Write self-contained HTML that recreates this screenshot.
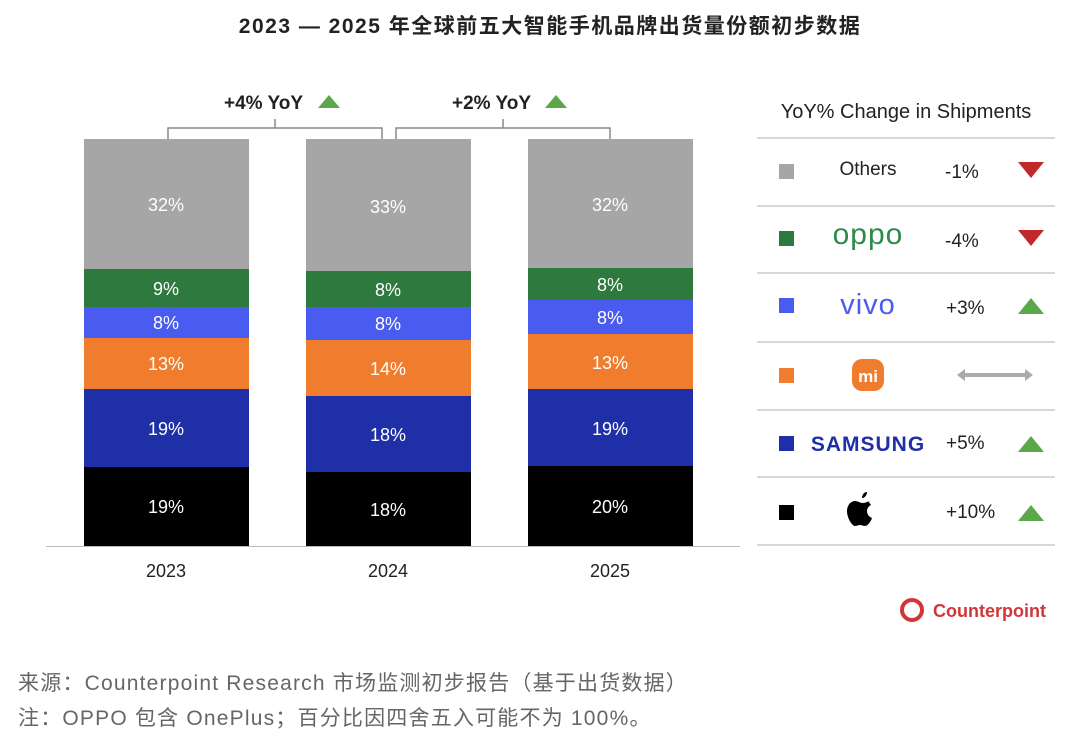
<!DOCTYPE html>
<html><head><meta charset="utf-8"><style>
body{margin:0;background:#fff;width:1080px;height:739px;overflow:hidden;font-family:"Liberation Sans","Noto Sans CJK SC",sans-serif;}
</style></head><body>
<svg width="1080" height="739" viewBox="0 0 1080 739" xmlns="http://www.w3.org/2000/svg" font-family="Liberation Sans, Noto Sans CJK SC, sans-serif">
<text x="550" y="33" text-anchor="middle" font-size="21" font-weight="bold" fill="#222" letter-spacing="1.5">2023 — 2025 年全球前五大智能手机品牌出货量份额初步数据</text>
<g>
<rect x="84" y="139" width="165" height="130" fill="#a6a6a6"/>
<rect x="84" y="269" width="165" height="38" fill="#2e7a3e"/>
<rect x="84" y="307" width="165" height="31" fill="#4a5cf0"/>
<rect x="84" y="338" width="165" height="51" fill="#f07d2e"/>
<rect x="84" y="389" width="165" height="78" fill="#1f2fa8"/>
<rect x="84" y="467" width="165" height="79" fill="#000"/>
<rect x="306" y="139" width="165" height="132" fill="#a6a6a6"/>
<rect x="306" y="271" width="165" height="36" fill="#2e7a3e"/>
<rect x="306" y="307" width="165" height="33" fill="#4a5cf0"/>
<rect x="306" y="340" width="165" height="56" fill="#f07d2e"/>
<rect x="306" y="396" width="165" height="76" fill="#1f2fa8"/>
<rect x="306" y="472" width="165" height="74" fill="#000"/>
<rect x="528" y="139" width="165" height="129" fill="#a6a6a6"/>
<rect x="528" y="268" width="165" height="32" fill="#2e7a3e"/>
<rect x="528" y="300" width="165" height="34" fill="#4a5cf0"/>
<rect x="528" y="334" width="165" height="55" fill="#f07d2e"/>
<rect x="528" y="389" width="165" height="77" fill="#1f2fa8"/>
<rect x="528" y="466" width="165" height="80" fill="#000"/>
</g>
<g font-size="18" fill="#fff" text-anchor="middle">
<text x="166" y="211">32%</text><text x="166" y="295">9%</text><text x="166" y="329">8%</text><text x="166" y="370">13%</text><text x="166" y="435">19%</text><text x="166" y="513">19%</text>
<text x="388" y="213">33%</text><text x="388" y="296">8%</text><text x="388" y="330">8%</text><text x="388" y="375">14%</text><text x="388" y="441">18%</text><text x="388" y="516">18%</text>
<text x="610" y="211">32%</text><text x="610" y="291">8%</text><text x="610" y="324">8%</text><text x="610" y="369">13%</text><text x="610" y="435">19%</text><text x="610" y="513">20%</text>
</g>
<line x1="46" y1="546.5" x2="740" y2="546.5" stroke="#bbb" stroke-width="1"/>
<g font-size="18" fill="#222" text-anchor="middle">
<text x="166" y="577">2023</text><text x="388" y="577">2024</text><text x="610" y="577">2025</text>
</g>
<g stroke="#888" stroke-width="1.5" fill="none">
<path d="M168 139V128H382V139M275 128V119"/>
<path d="M396 139V128H610V139M503 128V119"/>
</g>
<g font-size="19" font-weight="bold" fill="#222">
<text x="224" y="109">+4% YoY</text><text x="452" y="109">+2% YoY</text>
</g>
<polygon points="318,108 340,108 329,95" fill="#5aa84a"/>
<polygon points="545,108 567,108 556,95" fill="#5aa84a"/>
<text x="906" y="118" text-anchor="middle" font-size="20" fill="#222">YoY% Change in Shipments</text>
<g stroke="#ccc" stroke-width="1.5">
<line x1="757" y1="138" x2="1055" y2="138"/><line x1="757" y1="206" x2="1055" y2="206"/><line x1="757" y1="273" x2="1055" y2="273"/><line x1="757" y1="342" x2="1055" y2="342"/><line x1="757" y1="410" x2="1055" y2="410"/><line x1="757" y1="477" x2="1055" y2="477"/><line x1="757" y1="545" x2="1055" y2="545"/>
</g>
<rect x="779" y="164" width="15" height="15" fill="#a6a6a6"/>
<rect x="779" y="231" width="15" height="15" fill="#2e7a3e"/>
<rect x="779" y="298" width="15" height="15" fill="#4a5cf0"/>
<rect x="779" y="368" width="15" height="15" fill="#f07d2e"/>
<rect x="779" y="436" width="15" height="15" fill="#1f2fa8"/>
<rect x="779" y="505" width="15" height="15" fill="#000"/>
<text x="868" y="175" text-anchor="middle" font-size="19" fill="#222">Others</text>
<text x="868" y="244" text-anchor="middle" font-size="30" fill="#2e8a4a" letter-spacing="1">oppo</text>
<text x="868" y="314" text-anchor="middle" font-size="29" fill="#4a5cf0" letter-spacing="1">vivo</text>
<rect x="852" y="359" width="32" height="32" rx="10" fill="#f07d2e"/>
<text x="868" y="382" text-anchor="middle" font-size="17" font-weight="bold" fill="#fff">mi</text>
<text x="868" y="451" text-anchor="middle" font-size="21" font-weight="bold" fill="#1f2fa8" letter-spacing="1">SAMSUNG</text>
<path d="M871 501c-3 0-5 2-8 2s-5-2-8-2c-4 0-8 4-8 10 0 7 5 15 8 15 2 0 3-1 5-1s3 1 5 1c3 0 6-5 7-8-3-1-5-4-5-7s2-5 4-6c-2-3-4-4-0-4z M867 492c0 3-2 6-5 6 0-3 2-6 5-6z" fill="#000"/>
<g font-size="19" fill="#222">
<text x="945" y="178">-1%</text><text x="945" y="247">-4%</text><text x="946" y="314">+3%</text><text x="946" y="449">+5%</text><text x="946" y="518">+10%</text>
</g>
<polygon points="1018,162 1044,162 1031,178" fill="#c0282a"/>
<polygon points="1018,230 1044,230 1031,246" fill="#c0282a"/>
<polygon points="1018,314 1044,314 1031,298" fill="#5aa84a"/>
<polygon points="1018,452 1044,452 1031,436" fill="#5aa84a"/>
<polygon points="1018,521 1044,521 1031,505" fill="#5aa84a"/>
<path d="M957 375l8-6v4h60v-4l8 6-8 6v-4h-60v4z" fill="#aaa"/>
<circle cx="912" cy="610" r="10" fill="none" stroke="#d0363a" stroke-width="4"/>
<text x="933" y="617" font-size="18" font-weight="bold" fill="#d0363a">Counterpoint</text>
<g font-size="21" fill="#666" letter-spacing="1.2">
<text x="18" y="690">来源：Counterpoint Research 市场监测初步报告（基于出货数据）</text>
<text x="18" y="725">注：OPPO 包含 OnePlus；百分比因四舍五入可能不为 100%。</text>
</g>
</svg>
</body></html>
